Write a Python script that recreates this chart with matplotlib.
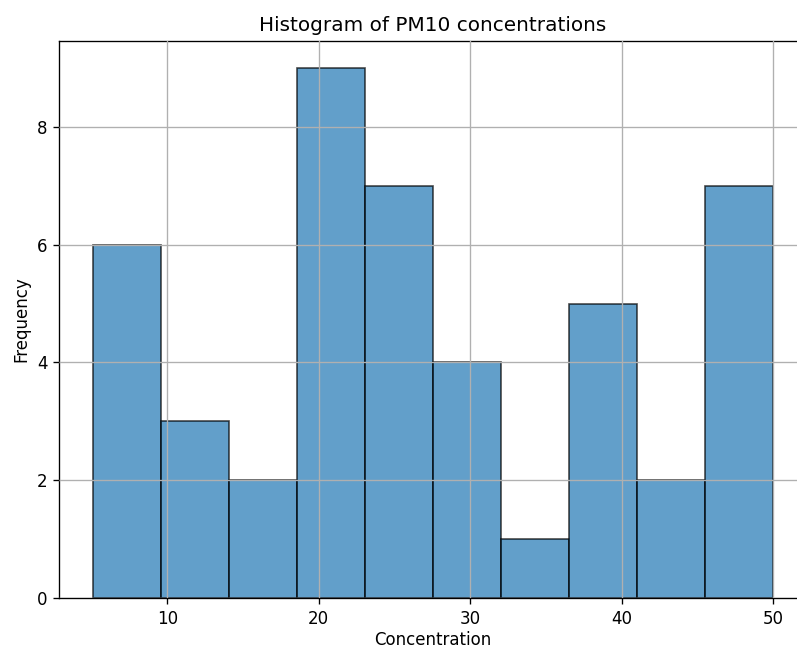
import numpy as np
import matplotlib
matplotlib.use('Agg')
import matplotlib.pyplot as plt

# bin edges and counts
bin_edges = [5.1, 9.59, 14.08, 18.57, 23.06, 27.55, 32.04, 36.53, 41.02, 45.51, 50.0]
counts = [6, 3, 2, 9, 7, 4, 1, 5, 2, 7]

# reference is cropped on the right, so the axes run a little past the figure edge
fig, ax = plt.subplots(figsize=(797 / 120, 648 / 120), dpi=120)
fig.subplots_adjust(left=59 / 797, right=807 / 797, top=1 - 41 / 648, bottom=1 - 598 / 648)

edges = np.array(bin_edges)
ax.bar(edges[:-1], counts, width=np.diff(edges), align='edge',
       color='#1f77b4', alpha=0.7, edgecolor='black', zorder=2)

ax.set_title('Histogram of PM10 concentrations')
ax.set_xlabel('Concentration', labelpad=2)
ax.set_ylabel('Frequency')
ax.grid(True, zorder=0)
ax.set_axisbelow(False)
ax.set_xlim(2.855, 52.245)
ax.set_ylim(0, 9.46)

fig.savefig('out.png', dpi=120)
